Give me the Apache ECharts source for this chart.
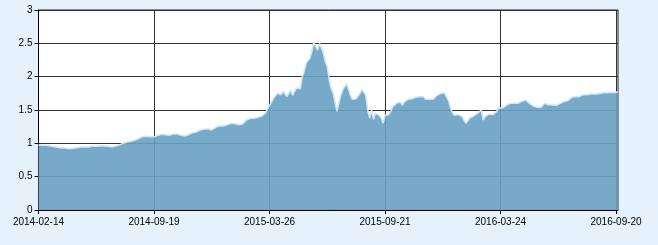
<!DOCTYPE html>
<html><head><meta charset="utf-8">
<script src="https://cdn.jsdelivr.net/npm/echarts@6/dist/echarts.min.js"></script>
<style>html,body{margin:0;padding:0;background:#e6f2fb;}#c{width:658px;height:245px;}</style>
</head><body><div id="c"></div>
<script>
// Tick labels shown on the x axis (every 60th point)
var tickDates = ['2014-02-14','2014-09-19','2015-03-26','2015-09-21','2016-03-24','2016-09-20'];
var tickEvery = 60;
var yTicks = [0, 0.5, 1, 1.5, 2, 2.5, 3];
// Net value series
var values = [
0.975,0.97,0.97,0.965,0.97,0.965,0.96,0.955,0.95,0.945,
0.94,0.935,0.93,0.925,0.93,0.925,0.92,0.92,0.925,0.93,
0.935,0.94,0.945,0.94,0.945,0.95,0.945,0.95,0.955,0.95,
0.955,0.96,0.96,0.955,0.96,0.965,0.955,0.95,0.945,0.95,
0.96,0.965,0.975,0.985,1.0,1.01,1.02,1.025,1.03,1.04,
1.045,1.05,1.07,1.09,1.10,1.095,1.105,1.11,1.10,1.105,
1.10,1.11,1.12,1.13,1.135,1.14,1.13,1.10,1.12,1.135,
1.14,1.135,1.14,1.13,1.12,1.115,1.11,1.115,1.13,1.145,
1.16,1.165,1.17,1.18,1.20,1.185,1.21,1.225,1.22,1.235,
1.20,1.22,1.24,1.25,1.26,1.255,1.26,1.27,1.28,1.29,
1.30,1.31,1.295,1.30,1.28,1.27,1.29,1.32,1.35,1.37,
1.375,1.36,1.375,1.38,1.39,1.40,1.41,1.43,1.46,1.52,
1.57,1.62,1.67,1.70,1.75,1.76,1.73,1.78,1.77,1.70,
1.75,1.80,1.72,1.78,1.83,1.84,1.82,2.00,2.08,2.20,
2.24,2.28,2.38,2.52,2.45,2.40,2.50,2.53,2.35,2.22,
2.15,1.95,1.82,1.76,1.62,1.48,1.60,1.72,1.80,1.85,
1.90,1.88,1.72,1.66,1.63,1.67,1.68,1.75,1.81,1.78,
1.72,1.50,1.38,1.50,1.36,1.45,1.44,1.42,1.38,1.30,
1.42,1.45,1.43,1.48,1.55,1.58,1.60,1.63,1.62,1.57,
1.62,1.65,1.66,1.64,1.67,1.70,1.69,1.72,1.70,1.68,
1.70,1.66,1.67,1.66,1.65,1.66,1.67,1.72,1.75,1.75,
1.74,1.75,1.73,1.64,1.53,1.46,1.42,1.44,1.43,1.42,
1.40,1.38,1.30,1.34,1.38,1.40,1.41,1.43,1.45,1.48,
1.50,1.35,1.40,1.43,1.44,1.42,1.43,1.45,1.48,1.53,
1.52,1.53,1.55,1.57,1.58,1.60,1.61,1.60,1.62,1.60,
1.62,1.63,1.62,1.65,1.66,1.60,1.58,1.56,1.55,1.54,
1.55,1.54,1.56,1.60,1.61,1.58,1.57,1.575,1.58,1.57,
1.58,1.60,1.62,1.63,1.625,1.64,1.66,1.69,1.71,1.70,
1.71,1.70,1.72,1.73,1.72,1.73,1.725,1.74,1.75,1.74,
1.75,1.745,1.75,1.76,1.755,1.76,1.75,1.765,1.77,1.76,
1.77,1.775
];
// Category dates: tick dates at every 60th point, in-between dates spread between them
function fmt(d){var m=d.getUTCMonth()+1,dd=d.getUTCDate();return d.getUTCFullYear()+'-'+(m<10?'0':'')+m+'-'+(dd<10?'0':'')+dd;}
var categories = [];
for (var i = 0; i < values.length; i++) {
  var k = Math.floor(i / tickEvery), r = i % tickEvery;
  if (r === 0 && k < tickDates.length) { categories.push(tickDates[k]); continue; }
  var a = new Date(tickDates[Math.min(k, tickDates.length - 2)] + 'T00:00:00Z');
  var b = new Date(tickDates[Math.min(k + 1, tickDates.length - 1)] + 'T00:00:00Z');
  if (k >= tickDates.length - 1) { a = new Date(tickDates[tickDates.length-2]+'T00:00:00Z'); b = new Date(tickDates[tickDates.length-1]+'T00:00:00Z'); r = i - (tickDates.length-2)*tickEvery; }
  var t = a.getTime() + (b.getTime() - a.getTime()) * r / tickEvery;
  categories.push(fmt(new Date(t)));
}
var chart = echarts.init(document.getElementById('c'), null, {renderer:'canvas'});
var lab = {color:'#000', fontFamily:'Liberation Sans', fontSize:10};
chart.setOption({
  backgroundColor:'#e6f2fb',
  animation:false,
  grid:{left:38.5, right:40, top:10, bottom:35, show:true, backgroundColor:'#ffffff', borderColor:'#222', borderWidth:1},
  xAxis:{type:'category', data:categories, boundaryGap:false,
    axisLine:{show:true, lineStyle:{color:'#000', width:1}},
    axisTick:{show:true, inside:false, length:4, interval:tickEvery-1, lineStyle:{color:'#000'}},
    axisLabel:Object.assign({interval:tickEvery-1, margin:7}, lab),
    splitLine:{show:true, interval:tickEvery-1, lineStyle:{color:'#333', width:1}}
  },
  yAxis:{type:'value', min:yTicks[0], max:yTicks[yTicks.length-1], interval:0.5,
    axisLine:{show:true, lineStyle:{color:'#000', width:1}},
    axisTick:{show:true, length:4, lineStyle:{color:'#000'}},
    axisLabel:Object.assign({margin:6}, lab),
    splitLine:{show:true, lineStyle:{color:'#333', width:1}}
  },
  series:[{type:'line', data:values, symbol:'none', smooth:false, sampling:null,
    lineStyle:{color:'#cfe7f8', width:1.5},
    areaStyle:{color:'rgb(104,160,194)', opacity:0.9}
  }]
});
</script></body></html>
